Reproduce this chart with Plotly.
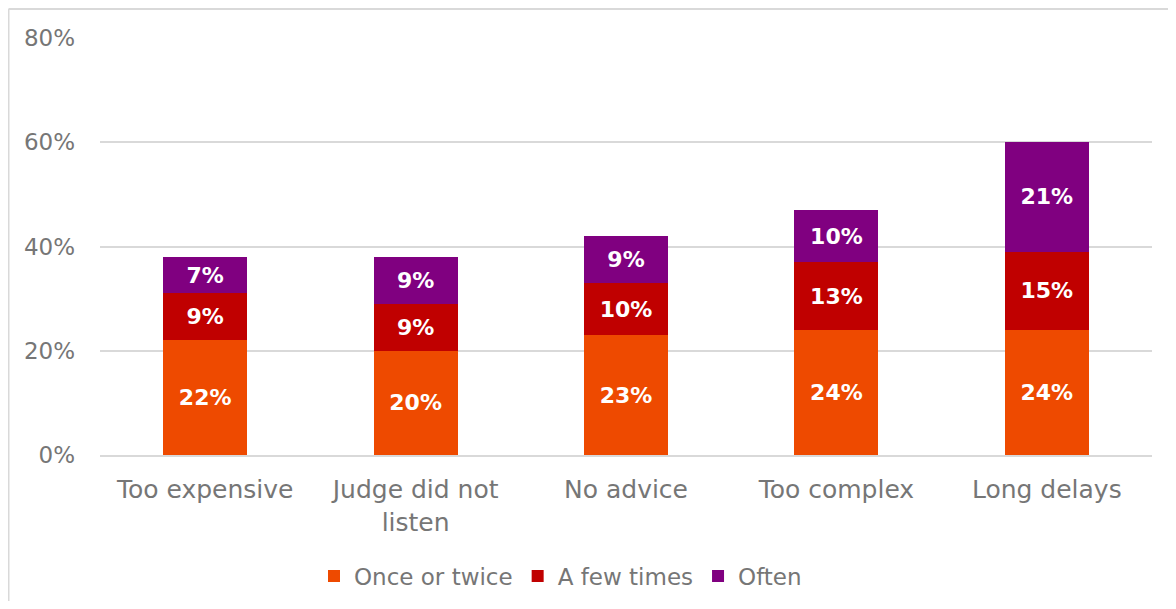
import plotly.graph_objects as go

categories = ["Too expensive", "Judge did not<br>listen", "No advice", "Too complex", "Long delays"]
once_or_twice = [22, 20, 23, 24, 24]
a_few_times = [9, 9, 10, 13, 15]
often = [7, 9, 9, 10, 21]
series_names = ["Once or twice", "A few times", "Often"]
colors = ["#EE4A00", "#C00000", "#800080"]
tick_vals = [0, 20, 40, 60, 80]
tick_text = ["0%", "20%", "40%", "60%", "80%"]

FONT = "DejaVu Sans"
GRAY = "#767676"

fig = go.Figure()
for name, vals, col in zip(series_names, [once_or_twice, a_few_times, often], colors):
    fig.add_trace(go.Bar(
        x=categories, y=vals, name=name,
        marker=dict(color=col, line=dict(width=0)),
        text=[f"{v}%" for v in vals],
        textposition="inside", insidetextanchor="middle",
        textfont=dict(family=FONT, size=22, color="white", weight="bold"),
        textangle=0,
    ))

W, H = 1160, 593
L, R, T, B = 92, 16, 30, 146
pw, ph = W - L - R, H - T - B

fig.update_layout(
    barmode="stack",
    bargap=0.6,
    width=W, height=H,
    margin=dict(l=L, r=R, t=T, b=B, autoexpand=False),
    paper_bgcolor="white", plot_bgcolor="white",
    font=dict(family=FONT, color=GRAY, size=22),
    uniformtext=dict(mode=False),
    legend=dict(orientation="h", x=(314 - 100) / pw, xanchor="left", y=-(568 - 447) / ph, yanchor="middle",
                font=dict(family=FONT, size=23, color=GRAY), traceorder="normal",
                itemwidth=30),
    showlegend=True,
)
fig.update_yaxes(range=[0, 80], tickvals=tick_vals, ticktext=tick_text,
                 showgrid=True, gridcolor="#D9D9D9", gridwidth=2,
                 zeroline=False, showline=False, ticks="", ticklabelstandoff=24,
                 tickfont=dict(family=FONT, size=23, color=GRAY))
fig.update_xaxes(showline=True, linecolor="#D9D9D9", linewidth=2, ticks="",
                 ticklabelstandoff=11,
                 tickfont=dict(family=FONT, size=25, color=GRAY))

# outer chart border (only left and top edges are visible in the reference)
bx = (0.5 - L) / pw
by = (ph + T - 1) / ph
fig.add_shape(type="line", xref="paper", yref="paper",
              x0=bx, x1=bx, y0=-(H - T - ph + 5) / ph, y1=by,
              line=dict(color="#D9D9D9", width=2), layer="below")
fig.add_shape(type="line", xref="paper", yref="paper",
              x0=bx, x1=(W + 5 - L) / pw, y0=by, y1=by,
              line=dict(color="#D9D9D9", width=2), layer="below")

fig.write_html("out.html")
